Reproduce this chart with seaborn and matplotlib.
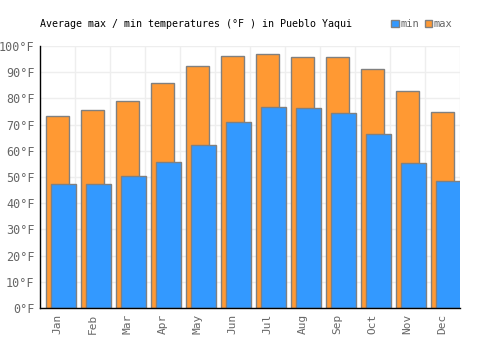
import matplotlib
matplotlib.use("Agg")
import matplotlib.pyplot as plt
import seaborn as sns
import numpy as np
import pandas as pd
from matplotlib.patches import Patch

months = ["Jan", "Feb", "Mar", "Apr", "May", "Jun", "Jul", "Aug", "Sep", "Oct", "Nov", "Dec"]
max_temp = [73.2, 75.5, 78.9, 85.8, 92.2, 96.1, 96.8, 95.7, 95.7, 91.1, 82.7, 74.7]
min_temp = [47.2, 47.2, 50.3, 55.6, 62.1, 70.9, 76.6, 76.2, 74.3, 66.3, 55.2, 48.4]
y_ticks = [0, 10, 20, 30, 40, 50, 60, 70, 80, 90, 100]

sns.set_theme(style="white")
plt.rcParams['font.family'] = ['DejaVu Sans Mono']

ORANGE = "#FF9933"
BLUE = "#3399FF"
EDGE = "#808080"
TXT = "#666666"

idx = np.arange(len(months))
df_max = pd.DataFrame({"pos": idx + 0.0, "value": max_temp})
df_min = pd.DataFrame({"pos": idx + 0.17, "value": min_temp})

fig = plt.figure(figsize=(5, 3.5), dpi=100)
ax = fig.add_axes([0.08, 0.12, 0.84, 0.7486])

for v in y_ticks:
    ax.axhline(v, color="#eeeeee", lw=1, zorder=0)
for b in idx + 0.5:
    ax.axvline(b, color="#eeeeee", lw=1, zorder=0)

sns.barplot(data=df_max, x="pos", y="value", native_scale=True, width=0.66,
            color=ORANGE, saturation=1, edgecolor=EDGE, linewidth=1, ax=ax, zorder=2)
sns.barplot(data=df_min, x="pos", y="value", native_scale=True, width=0.71,
            color=BLUE, saturation=1, edgecolor=EDGE, linewidth=1, ax=ax, zorder=3)

ax.set_xlim(-0.5, 11.5)
ax.set_ylim(0, 100)
ax.set_xticks(idx)
ax.set_xticklabels(months, rotation=90, color=TXT, fontsize=8)
ax.set_yticks(y_ticks)
ax.set_yticklabels([f"{v}°F" for v in y_ticks], color=TXT, fontsize=8.5)
ax.tick_params(axis="both", length=0, pad=4)
ax.set_xlabel("")
ax.set_ylabel("")
for s in ["top", "right"]:
    ax.spines[s].set_visible(False)
for s in ["left", "bottom"]:
    ax.spines[s].set_color("black")
    ax.spines[s].set_linewidth(1)
    ax.spines[s].set_zorder(5)

fig.text(40 / 500, 1 - 24 / 350, "Average max / min temperatures (°F ) in Pueblo Yaqui",
         fontsize=7.2, color="black", va="center", ha="left")

handles = [Patch(facecolor=BLUE, edgecolor=EDGE, label="min"),
           Patch(facecolor=ORANGE, edgecolor=EDGE, label="max")]
leg = fig.legend(handles=handles, loc="center left", bbox_to_anchor=(386 / 500, 1 - 24 / 350),
                 ncol=2, frameon=False, fontsize=7.5, handlelength=0.7, handleheight=0.7,
                 handletextpad=0.2, columnspacing=0.5, borderpad=0)
for t in leg.get_texts():
    t.set_color(TXT)

fig.savefig("out.png", dpi=100)
